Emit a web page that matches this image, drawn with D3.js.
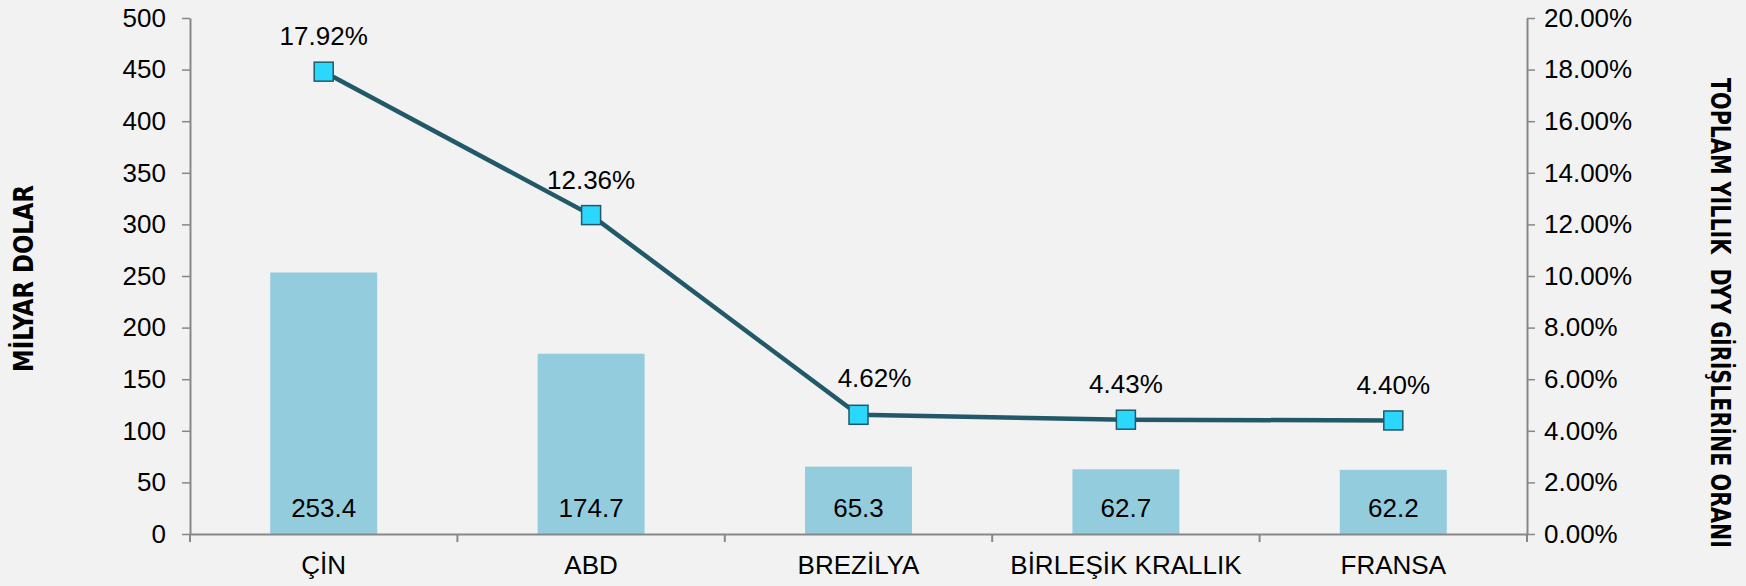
<!DOCTYPE html>
<html>
<head>
<meta charset="utf-8">
<script src="https://cdn.jsdelivr.net/npm/d3@7"></script>
<style>
    body { margin: 0; background: #f2f2f2; }
    svg { display: block; background: #f2f2f2; }
    text { font-family: "Liberation Sans", Arial, Helvetica, sans-serif; fill: #000; }
    .title { font-family: "Liberation Sans Narrow", "Arial Narrow", "DejaVu Sans Condensed", sans-serif; font-weight: bold; font-size: 27px; }
</style>
</head>
<body>
<svg></svg>
<script>
var categories = ["ÇİN", "ABD", "BREZİLYA", "BİRLEŞİK KRALLIK", "FRANSA"]
var billions = [253.4, 174.7, 65.3, 62.7, 62.2]
var shares = [17.92, 12.36, 4.62, 4.43, 4.40]
var leftTicks = [0, 50, 100, 150, 200, 250, 300, 350, 400, 450, 500]
var rightTicks = [0, 2, 4, 6, 8, 10, 12, 14, 16, 18, 20]

var screen = { width: 1746, height: 586 }
var margins = { left: 190, right: 219, top: 18, bottom: 52 }

var graph = {
    width: screen.width - margins.left - margins.right,
    height: screen.height - margins.top - margins.bottom
}

var fontSize = "26px"

var makeTranslateString = function (x, y) {
    return "translate(" + x + "," + y + ")";
}

var svg = d3.select("svg")
    .attr("width", screen.width)
    .attr("height", screen.height)

var target = svg.append("g")
    .attr("transform", makeTranslateString(margins.left, margins.top))

var xScale = d3.scaleBand()
    .domain(categories)
    .range([0, graph.width])
    .paddingInner(0.6)
    .paddingOuter(0.3)

var bandScale = d3.scaleBand()
    .domain(categories)
    .range([0, graph.width])

var yLeft = d3.scaleLinear()
    .domain([0, 500])
    .range([graph.height, 0])

var yRight = d3.scaleLinear()
    .domain([0, 20])
    .range([graph.height, 0])

var rows = categories.map(function (c, i) {
    return { name: c, value: billions[i], share: shares[i] }
})

// bars
target.selectAll("rect.bar")
    .data(rows)
    .enter()
    .append("rect")
    .classed("bar", true)
    .attr("x", function (d) { return xScale(d.name) })
    .attr("width", xScale.bandwidth())
    .attr("y", function (d) { return yLeft(d.value) })
    .attr("height", function (d) { return graph.height - yLeft(d.value) })
    .attr("fill", "#93cddd")

target.selectAll("text.barlabel")
    .data(rows)
    .enter()
    .append("text")
    .classed("barlabel", true)
    .attr("x", function (d) { return xScale(d.name) + xScale.bandwidth() / 2 })
    .attr("y", graph.height - 17)
    .attr("text-anchor", "middle")
    .style("font-size", fontSize)
    .text(function (d) { return d.value })

// axes
var axisColor = "#878787"

var xAxis = d3.axisBottom(bandScale).tickSize(0).tickPadding(22)
var gx = target.append("g")
    .attr("transform", makeTranslateString(0, graph.height))
    .call(xAxis)
gx.select(".domain").attr("stroke", axisColor).attr("stroke-width", 2)
gx.selectAll("text").style("font-size", fontSize)

// boundary ticks between categories
var bounds = categories.map(function (c) { return bandScale(c) }).concat([graph.width])
target.selectAll("line.bound")
    .data(bounds)
    .enter()
    .append("line")
    .classed("bound", true)
    .attr("x1", function (d) { return d })
    .attr("x2", function (d) { return d })
    .attr("y1", graph.height)
    .attr("y2", graph.height + 8)
    .attr("stroke", axisColor)
    .attr("stroke-width", 2)

var leftAxis = d3.axisLeft(yLeft).tickValues(leftTicks).tickSize(8).tickPadding(16).tickSizeOuter(0)
var gl = target.append("g").call(leftAxis)
gl.select(".domain").attr("stroke", axisColor).attr("stroke-width", 2)
gl.selectAll(".tick line").attr("stroke", axisColor).attr("stroke-width", 1.5)
gl.selectAll("text").style("font-size", fontSize)

var rightAxis = d3.axisRight(yRight)
    .tickValues(rightTicks)
    .tickSize(8)
    .tickPadding(9)
    .tickSizeOuter(0)
    .tickFormat(function (d) { return d3.format(".2f")(d) + "%" })
var gr = target.append("g")
    .attr("transform", makeTranslateString(graph.width, 0))
    .call(rightAxis)
gr.select(".domain").attr("stroke", axisColor).attr("stroke-width", 2)
gr.selectAll(".tick line").attr("stroke", axisColor).attr("stroke-width", 1.5)
gr.selectAll("text").style("font-size", fontSize)

// line
var cx = function (d) { return bandScale(d.name) + bandScale.bandwidth() / 2 }

var lineGenerator = d3.line()
    .x(cx)
    .y(function (d) { return yRight(d.share) })

target.append("path")
    .datum(rows)
    .attr("d", lineGenerator)
    .attr("fill", "none")
    .attr("stroke", "#215968")
    .attr("stroke-width", 4.5)

var m = 19
target.selectAll("rect.marker")
    .data(rows)
    .enter()
    .append("rect")
    .classed("marker", true)
    .attr("x", function (d) { return cx(d) - m / 2 })
    .attr("y", function (d) { return yRight(d.share) - m / 2 })
    .attr("width", m)
    .attr("height", m)
    .attr("fill", "#2cd7fd")
    .attr("stroke", "#1f5a6c")
    .attr("stroke-width", 1.5)

target.selectAll("text.sharelabel")
    .data(rows)
    .enter()
    .append("text")
    .classed("sharelabel", true)
    .attr("x", function (d, i) { return cx(d) + (i == 2 ? 16 : 0) })
    .attr("y", function (d, i) { return yRight(d.share) - (i == 2 ? 28 : 26.5) })
    .attr("text-anchor", "middle")
    .style("font-size", fontSize)
    .text(function (d) { return d3.format(".2f")(d.share) + "%" })

// titles
svg.append("g")
    .attr("transform", makeTranslateString(24, 278.5))
    .append("text")
    .classed("title", true)
    .attr("text-anchor", "middle")
    .attr("dy", "0.35em")
    .attr("transform", "rotate(-90)")
    .attr("textLength", 187)
    .attr("lengthAdjust", "spacingAndGlyphs")
    .text("MİLYAR DOLAR")

svg.append("g")
    .attr("transform", makeTranslateString(1720, 313))
    .append("text")
    .classed("title", true)
    .attr("text-anchor", "middle")
    .attr("dy", "0.35em")
    .attr("transform", "rotate(90)")
    .attr("xml:space", "preserve")
    .attr("textLength", 470)
    .attr("lengthAdjust", "spacingAndGlyphs")
    .text("TOPLAM YILLIK  DYY GİRİŞLERİNE ORANI")
</script>
</body>
</html>
